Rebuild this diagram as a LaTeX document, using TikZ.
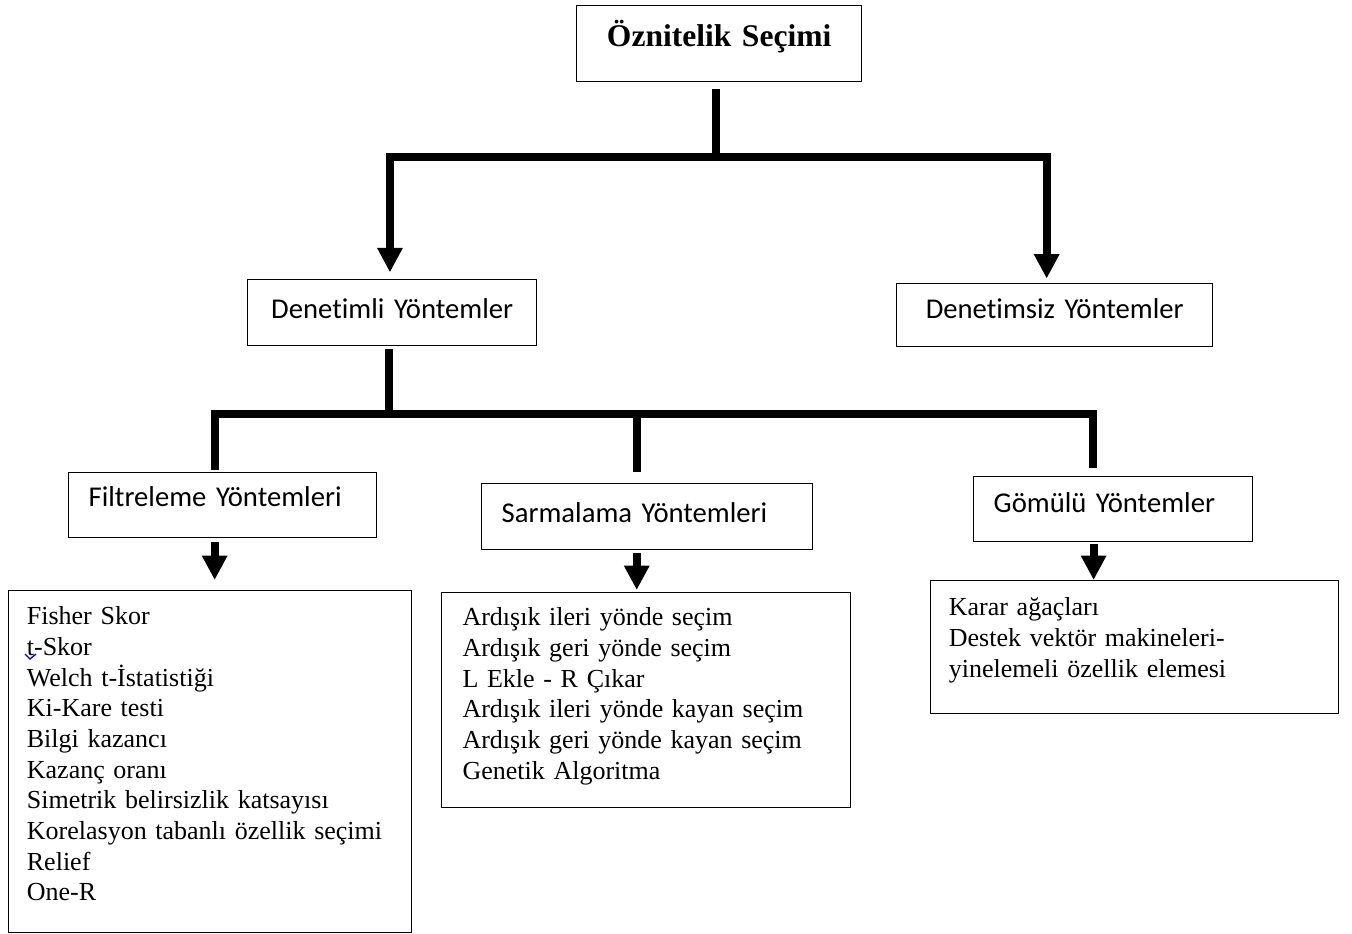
\documentclass[tikz,border=0pt]{standalone}
\usepackage{fontspec}
\setmainfont{Liberation Serif}
\newfontfamily\calfont[Ligatures=NoCommon]{Carlito}
\usetikzlibrary{arrows.meta}

\begin{document}
\begin{tikzpicture}[x=0.45pt,y=0.45pt]
	\tikzstyle{every node}+=[inner ysep=0pt]
	\tikzstyle{box}=[draw=black, line width=0.6pt, rectangle, anchor=north west, inner xsep=9pt]
	\tikzstyle{head}=[box, font=\calfont\fontsize{12.9}{15}\selectfont]
	\tikzstyle{list}=[box, inner xsep=8.2pt, align=left, font=\fontsize{11.7}{13.8}\selectfont]
	\tikzstyle{bar}=[line width=3.5pt]
	\tikzstyle{arr}=[bar, -{Triangle[width=10.8pt,length=11pt]}]
	\useasboundingbox (0,0) rectangle (1352,-933);
	\node[box, font=\bfseries\fontsize{14.2}{16}\selectfont, align=center, text width=110.25pt, text height=18.45pt, text depth=15.75pt] (sec) at (576,-5) {Öznitelik Seçimi};
	\node[head, align=center, text width=112.05pt, text height=17.55pt, text depth=12.15pt] (sup) at (247,-279) {Denetimli Yöntemler};
	\node[head, align=center, text width=124.2pt, text height=15.75pt, text depth=12.6pt] (unsup) at (896,-283) {Denetimsiz Yöntemler};
	\node[head, align=left, text width=120.6pt, text height=15.3pt, text depth=13.95pt] (filt) at (68,-472) {Filtreleme Yöntemleri};
	\node[head, align=left, text width=130.95pt, text height=17.55pt, text depth=12.15pt] (sarm) at (481,-483) {Sarmalama Yöntemleri};
	\node[head, align=left, text width=107.55pt, text height=16.2pt, text depth=13.05pt] (gom) at (973,-476) {Gömülü Yöntemler};
	\node[list, text width=164.95pt, text height=15.3pt, text depth=138.6pt] (flist) at (8,-590) {Fisher Skor\\t-Skor\\Welch t-İstatistiği\\Ki-Kare testi\\Bilgi kazancı\\Kazanç oranı\\Simetrik belirsizlik katsayısı\\Korelasyon tabanlı özellik seçimi\\Relief\\One-R};
	\node[list, inner xsep=9.4pt, text width=165.25pt, text height=14.85pt, text depth=81.9pt] (slist) at (441,-592) {Ardışık ileri yönde seçim\\Ardışık geri yönde seçim\\L Ekle - R Çıkar\\Ardışık ileri yönde kayan seçim\\Ardışık geri yönde kayan seçim\\Genetik Algoritma};
	\node[list, text width=167.2pt, text height=15.75pt, text depth=44.1pt] (glist) at (930,-580) {Karar ağaçları\\Destek vektör makineleri-\\yinelemeli özellik elemesi};
	\coordinate (j1) at (716,-157);
	\coordinate (j2) at (389,-414);
	\draw[bar, shorten <=3pt] (j1 |- sec.south) -- (j1);
	\draw[arr, shorten >=3pt] (j1) -| ([xshift=-1pt]sup.north);
	\draw[arr, shorten >=2pt] (j1) -| ([xshift=-3.6pt]unsup.north);
	\draw[bar, shorten <=1pt] (j2 |- sup.south) -- (j2);
	\draw[bar, shorten >=1pt] (j2) -| ([xshift=-3.6pt]filt.north);
	\draw[bar, shorten >=5pt] (j2) -| ([xshift=-4.7pt]sarm.north);
	\draw[bar, shorten >=3.6pt] (j2) -| ([xshift=-9.2pt]gom.north);
	\draw[arr, shorten <=1.8pt, shorten >=4.5pt] ([xshift=-3.6pt]filt.south) -- ([xshift=-3.6pt]filt.south |- flist.north);
	\draw[arr, shorten <=1.4pt, shorten >=0.9pt] ([xshift=-4.7pt]sarm.south) -- ([xshift=-4.7pt]sarm.south |- slist.north);
	\draw[arr, shorten <=0.9pt] ([xshift=-8.8pt]gom.south) -- ([xshift=-8.8pt]gom.south |- glist.north);
	\draw[blue!80!black, line width=0.6pt] (25,-654) -- (30,-659) -- (36,-654);
\end{tikzpicture}
\end{document}
